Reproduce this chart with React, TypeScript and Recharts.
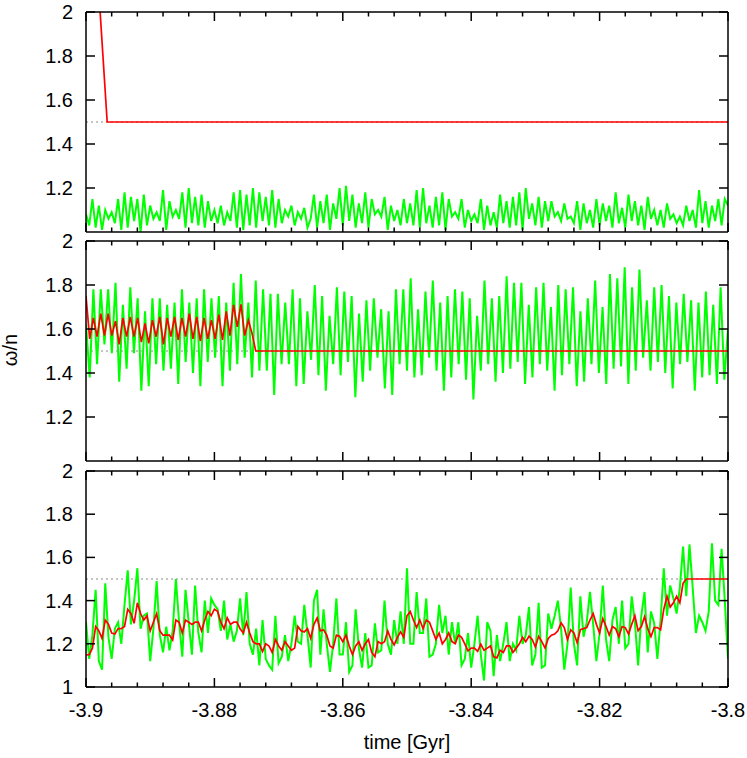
import React from 'react';
import { LineChart, Line, XAxis, YAxis, ReferenceLine } from 'recharts';

const T_START = -3.9;
const T_END = -3.8;
const xMajorTicks = [-3.9, -3.88, -3.86, -3.84, -3.82, -3.8];
const xTickLabels = ['-3.9', '-3.88', '-3.86', '-3.84', '-3.82', '-3.8'];
const xMinorPerMajor = 5;
const yTicksUpper = [1.2, 1.4, 1.6, 1.8, 2];
const yLabelsUpper = ['1.2', '1.4', '1.6', '1.8', '2'];
const yTicksLower = [1, 1.2, 1.4, 1.6, 1.8, 2];
const yLabelsLower = ['1', '1.2', '1.4', '1.6', '1.8', '2'];
const resonanceLevel = 1.5;

// top panel
const greenTop = [
  1.08,1.03,1.15,1.02,1.12,1.01,1.10,1.06,1.09,1.04,
  1.15,1.01,1.18,1.02,1.16,1.05,1.15,1.00,1.17,1.03,
  1.12,1.06,1.09,1.05,1.19,1.01,1.14,1.07,1.10,1.06,
  1.18,1.02,1.20,1.04,1.16,1.03,1.17,1.02,1.14,1.05,
  1.10,1.04,1.12,1.03,1.09,1.05,1.18,1.02,1.19,1.01,
  1.17,1.03,1.20,1.02,1.18,1.05,1.16,1.03,1.19,1.02,
  1.15,1.04,1.10,1.07,1.12,1.03,1.09,1.06,1.11,1.02,
  1.06,1.17,1.02,1.14,1.04,1.17,1.01,1.13,1.06,1.20,
  1.03,1.21,1.05,1.17,1.02,1.13,1.04,1.18,1.02,1.15,
  1.08,1.10,1.07,1.16,1.01,1.12,1.05,1.10,1.03,1.15,
  1.04,1.13,1.03,1.19,1.02,1.20,1.04,1.12,1.02,1.16,
  1.03,1.18,1.01,1.15,1.07,1.09,1.06,1.15,1.02,1.10,
  1.05,1.08,1.04,1.15,1.01,1.12,1.03,1.09,1.02,1.17,
  1.04,1.14,1.02,1.16,1.03,1.18,1.01,1.20,1.06,1.13,
  1.03,1.16,1.02,1.14,1.05,1.14,1.07,1.09,1.05,1.13,
  1.06,1.07,1.04,1.14,1.01,1.13,1.04,1.10,1.02,1.15,
  1.03,1.13,1.05,1.12,1.02,1.18,1.04,1.11,1.02,1.17,
  1.05,1.14,1.03,1.12,1.01,1.16,1.06,1.10,1.03,1.10,
  1.02,1.13,1.06,1.08,1.04,1.07,1.03,1.12,1.05,1.10,
  1.02,1.19,1.04,1.14,1.02,1.12,1.05,1.15,1.03,1.15,
  1.12,
];
const redTopTime = [-3.9, -3.8967, -3.8];
const redTopValue = [3.0, 1.5, 1.5];

// middle panel
const greenMid = [
  1.62,
  1.38,1.78, 1.44,1.78, 1.53,1.78, 1.49,1.81, 1.36,1.71, 1.42,1.79, 1.49,1.74, 1.32,1.68, 1.34,1.74, 1.44,1.74,
  1.41,1.71, 1.42,1.72, 1.35,1.78, 1.45,1.72, 1.40,1.74, 1.34,1.78, 1.45,1.74, 1.47,1.75, 1.34,1.72, 1.41,1.81,
  1.44,1.85, 1.47,1.72, 1.38,1.82, 1.41,1.78, 1.41,1.76, 1.30,1.76, 1.44,1.72, 1.44,1.78,
  1.34,1.74, 1.35,1.68, 1.46,1.80, 1.39,1.75, 1.32,1.66, 1.44,1.79, 1.39,1.77, 1.45,1.75, 1.29,1.67, 1.36,1.73,
  1.41,1.74, 1.47,1.69, 1.33,1.68, 1.30,1.78, 1.44,1.78, 1.41,1.83, 1.38,1.69, 1.39,1.77, 1.47,1.82, 1.41,1.72,
  1.32,1.75, 1.38,1.78, 1.44,1.77, 1.37,1.74, 1.28,1.66, 1.41,1.82, 1.44,1.74, 1.36,1.75, 1.40,1.84, 1.42,1.81,
  1.45,1.81, 1.35,1.71, 1.38,1.79, 1.44,1.81, 1.41,1.70, 1.32,1.80, 1.39,1.78, 1.44,1.79, 1.34,1.68, 1.36,1.74,
  1.44,1.82, 1.40,1.70, 1.35,1.85, 1.42,1.83, 1.43,1.88, 1.35,1.79, 1.41,1.87, 1.47,1.73, 1.41,1.79, 1.45,1.80,
  1.40,1.75, 1.33,1.72, 1.44,1.76, 1.45,1.73, 1.32,1.72, 1.38,1.77, 1.39,1.71, 1.35,1.79,
  1.37, 1.60,
];
const redMid = [
  1.75,
  1.555,1.65, 1.565,1.67, 1.57,1.67, 1.57,1.636, 1.53,1.65, 1.565,1.655, 1.565,1.65, 1.54,1.625,
  1.535,1.64, 1.565,1.655, 1.53,1.65, 1.565,1.655, 1.55,1.65, 1.565,1.67, 1.555,1.655, 1.545,1.65,
  1.555,1.64, 1.555,1.665, 1.55,1.68, 1.57,1.71, 1.61,1.712, 1.57,1.64,
  1.58, 1.5,
];
const redMidEnd = 1.5;

// bottom panel
const greenBot = [
  1.30,1.13,1.24,1.45,1.12,1.08,1.48,1.23,1.13,1.27,
  1.30,1.20,1.38,1.54,1.29,1.40,1.55,1.27,1.33,1.34,
  1.12,1.27,1.49,1.24,1.16,1.28,1.17,1.26,1.50,1.30,
  1.14,1.45,1.30,1.15,1.47,1.25,1.16,1.40,1.25,1.41,
  1.38,1.36,1.26,1.40,1.22,1.29,1.21,1.26,1.41,1.24,
  1.44,1.20,1.15,1.27,1.10,1.31,1.13,1.10,1.08,1.33,
  1.11,1.14,1.24,1.12,1.20,1.33,1.21,
  1.20,1.38,1.24,1.09,1.40,1.45,1.15,1.36,1.20,1.07,
  1.20,1.41,1.15,1.15,1.30,1.07,1.10,1.36,1.18,1.09,
  1.25,1.09,1.10,1.295,1.16,1.17,1.40,1.20,1.15,1.31,
  1.20,1.35,1.20,1.55,1.20,1.20,1.44,1.25,1.25,1.41,
  1.14,1.15,1.20,1.38,1.25,1.33,1.15,1.30,1.20,1.30,
  1.10,1.13,1.25,1.09,1.20,1.33,1.15,1.03,1.30,1.26,
  1.05,1.24,1.12,1.20,1.30,1.12,1.20,
  1.17,1.33,1.20,1.24,1.37,1.10,1.15,1.39,1.09,1.10,
  1.34,1.27,1.33,1.40,1.27,1.08,1.20,1.46,1.20,1.10,
  1.42,1.233,1.30,1.44,1.29,1.12,1.25,1.47,1.22,1.12,
  1.31,1.37,1.20,1.40,1.18,1.20,1.42,1.30,1.10,1.33,
  1.44,1.16,1.35,1.295,1.13,1.31,1.55,1.33,1.47,1.41,
  1.34,1.46,1.65,1.42,1.66,1.46,1.25,1.33,1.30,1.26,
  1.35,1.665,1.40,1.38,1.64,1.40,1.13,
];
const redBot = [
  1.148,1.15,1.18,1.28,1.26,1.225,1.31,1.29,1.25,1.245,
  1.27,1.27,1.28,1.36,1.34,1.295,1.39,1.34,1.31,1.33,
  1.26,1.30,1.34,1.26,1.24,1.24,1.24,1.218,1.31,1.30,
  1.25,1.31,1.30,1.29,1.30,1.30,1.26,1.31,1.35,1.33,
  1.36,1.35,1.30,1.27,1.32,1.29,1.30,1.30,1.27,1.25,
  1.30,1.25,1.21,1.20,1.20,1.164,1.20,1.19,1.16,1.22,
  1.19,1.17,1.21,1.19,1.17,1.18,1.28,
  1.26,1.255,1.27,1.225,1.29,1.32,1.26,1.265,1.24,1.19,
  1.18,1.24,1.235,1.21,1.24,1.19,1.15,1.19,1.21,1.17,
  1.20,1.22,1.16,1.14,1.21,1.20,1.21,1.26,1.22,1.195,
  1.23,1.255,1.23,1.33,1.35,1.31,1.275,1.31,1.27,1.31,
  1.30,1.26,1.22,1.25,1.20,1.22,1.25,1.21,1.20,1.24,
  1.23,1.20,1.167,1.18,1.18,1.165,1.198,1.17,1.18,1.19,
  1.14,1.135,1.17,1.16,1.19,1.19,1.16,
  1.18,1.20,1.23,1.21,1.235,1.22,1.185,1.235,1.21,1.18,
  1.225,1.24,1.245,1.26,1.297,1.275,1.22,1.265,1.25,1.205,
  1.265,1.27,1.275,1.31,1.34,1.29,1.25,1.317,1.28,1.24,
  1.28,1.27,1.233,1.28,1.275,1.245,1.29,1.33,1.26,1.28,
  1.325,1.27,1.233,1.275,1.275,1.265,1.36,1.42,1.37,1.39,
  1.42,1.39,1.48,1.5,
];
const redBotEnd = 1.5;

// ---- build tables
const gridPoints = (values: number[], gridCount: number) =>
  values.map((v, i) => ({ t: T_START + (i * (T_END - T_START)) / (gridCount - 1), v }));

const greenTopData = gridPoints(greenTop, greenTop.length);
const redTopData = redTopTime.map((t, i) => ({ t, v: redTopValue[i] }));
const greenMidData = gridPoints(greenMid, greenMid.length);
const redMidData = [...gridPoints(redMid, greenMid.length), { t: T_END, v: redMidEnd }];
const greenBotData = gridPoints(greenBot, greenBot.length);
const redBotData = [...gridPoints(redBot, greenBot.length), { t: T_END, v: redBotEnd }];

const xAllTicks: number[] = [];
xMajorTicks.forEach((m, k) => {
  xAllTicks.push(m);
  if (k < xMajorTicks.length - 1) {
    const step = (xMajorTicks[k + 1] - m) / xMinorPerMajor;
    for (let j = 1; j < xMinorPerMajor; j++) xAllTicks.push(m + j * step);
  }
});

const FONT = '"Liberation Sans", Arial, Helvetica, sans-serif';
const FS = 20;
const W = 747;
const H = 758;
const PLOT_LEFT = 86;
const PLOT_RIGHT = 728;
const AX = 1; // thickness reserved for the zero-label axes

const majorIndex = (v: number) => xMajorTicks.findIndex((m) => Math.abs(m - v) < 1e-7);

const makeXTick = (side: 'top' | 'bottom', showLabels: boolean) => (props: any) => {
  const { x, y, payload } = props;
  const mi = majorIndex(payload.value);
  const len = mi >= 0 ? 9 : 4.5;
  const dir = side === 'bottom' ? -1 : 1;
  return (
    <g>
      <line x1={x} y1={y} x2={x} y2={y + dir * len} stroke="#000" strokeWidth={1.5} />
      {showLabels && mi >= 0 ? (
        <text x={x} y={y + 30} textAnchor="middle" fontSize={FS} fontFamily={FONT} fill="#000">
          {xTickLabels[mi]}
        </text>
      ) : null}
    </g>
  );
};

const makeYTick = (side: 'left' | 'right', ticks: number[], labels: string[]) => (props: any) => {
  const { x, y, payload } = props;
  const idx = ticks.findIndex((t) => Math.abs(t - payload.value) < 1e-7);
  const dir = side === 'left' ? 1 : -1;
  return (
    <g>
      <line x1={x} y1={y} x2={x + dir * 9} y2={y} stroke="#000" strokeWidth={1.5} />
      {side === 'left' && idx >= 0 ? (
        <text x={x - 13} y={y + 7} textAnchor="end" fontSize={FS} fontFamily={FONT} fill="#000">
          {labels[idx]}
        </text>
      ) : null}
    </g>
  );
};

type PanelProps = {
  top: number;
  bottom: number;
  yTicks: number[];
  yLabels: string[];
  green: { t: number; v: number }[];
  red: { t: number; v: number }[];
  showXLabels: boolean;
};

const Panel = ({ top, bottom, yTicks, yLabels, green, red, showXLabels }: PanelProps) => (
  <div style={{ position: 'absolute', left: 0, top: 0, width: W, height: H }}>
    <LineChart
      width={W}
      height={H}
      margin={{ top: top - AX, right: W - PLOT_RIGHT - AX, bottom: H - bottom - AX, left: 0 }}
    >
      <XAxis
        dataKey="t"
        type="number"
        domain={[T_START, T_END]}
        allowDataOverflow
        ticks={xAllTicks}
        interval={0}
        height={AX}
        tickSize={0}
        tickMargin={0}
        tickLine={false}
        axisLine={{ stroke: '#000', strokeWidth: 1.5 }}
        tick={makeXTick('bottom', showXLabels)}
      />
      <XAxis
        xAxisId="top"
        orientation="top"
        dataKey="t"
        type="number"
        domain={[T_START, T_END]}
        allowDataOverflow
        ticks={xAllTicks}
        interval={0}
        height={AX}
        tickSize={0}
        tickMargin={0}
        tickLine={false}
        axisLine={{ stroke: '#000', strokeWidth: 1.5 }}
        tick={makeXTick('top', false)}
      />
      <YAxis
        type="number"
        domain={[1, 2]}
        allowDataOverflow
        ticks={yTicks}
        interval={0}
        width={PLOT_LEFT}
        tickSize={0}
        tickMargin={0}
        tickLine={false}
        axisLine={{ stroke: '#000', strokeWidth: 1.5 }}
        tick={makeYTick('left', yTicks, yLabels)}
      />
      <YAxis
        yAxisId="right"
        orientation="right"
        type="number"
        domain={[1, 2]}
        allowDataOverflow
        ticks={yTicks}
        interval={0}
        width={AX}
        tickSize={0}
        tickMargin={0}
        tickLine={false}
        axisLine={{ stroke: '#000', strokeWidth: 1.5 }}
        tick={makeYTick('right', yTicks, yLabels)}
      />
      <ReferenceLine y={resonanceLevel} stroke="#8a8a8a" strokeWidth={1} strokeDasharray="2 3" />
      <Line
        data={green}
        dataKey="v"
        type="linear"
        stroke="#00ff00"
        strokeWidth={2}
        dot={false}
        isAnimationActive={false}
      />
      <Line
        data={red}
        dataKey="v"
        type="linear"
        stroke="#ff0000"
        strokeWidth={1.7}
        dot={false}
        isAnimationActive={false}
      />
    </LineChart>
  </div>
);

export default function App() {
  return (
    <div style={{ position: 'absolute', left: 0, top: 0, width: W, height: H, background: '#fff' }}>
      <Panel top={12} bottom={232} yTicks={yTicksUpper} yLabels={yLabelsUpper} green={greenTopData} red={redTopData} showXLabels={false} />
      <Panel top={241} bottom={461} yTicks={yTicksUpper} yLabels={yLabelsUpper} green={greenMidData} red={redMidData} showXLabels={false} />
      <Panel top={471} bottom={687} yTicks={yTicksLower} yLabels={yLabelsLower} green={greenBotData} red={redBotData} showXLabels={true} />
      <svg width={W} height={H} style={{ position: 'absolute', left: 0, top: 0, pointerEvents: 'none' }}>
        <text x={(PLOT_LEFT + PLOT_RIGHT) / 2} y={749} textAnchor="middle" fontSize={FS} fontFamily={FONT} fill="#000">
          time [Gyr]
        </text>
        <text x={17} y={350} textAnchor="middle" fontSize={FS} fontFamily={FONT} fill="#000" transform="rotate(-90 17 350)">
          ω/n
        </text>
      </svg>
    </div>
  );
}
